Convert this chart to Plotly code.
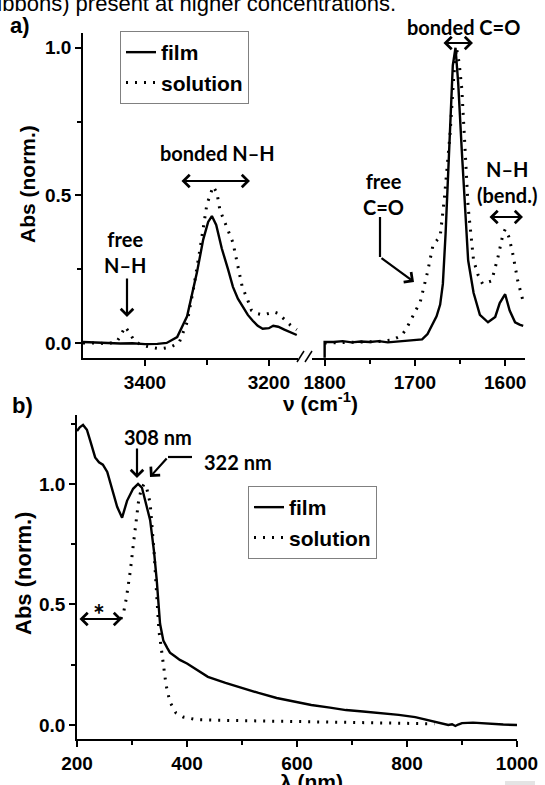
import plotly.graph_objects as go

W, H = 545, 785

# ---------------- data: panel a (IR) ----------------
ir_film_nh_x = [3500, 3480, 3460, 3440, 3420, 3400, 3380, 3365, 3348, 3332, 3316, 3306, 3298, 3292, 3285,
                3276, 3266, 3258, 3250, 3242, 3234, 3226, 3218, 3210, 3200, 3193, 3185, 3175, 3165, 3155]
ir_film_nh_y = [0.003, 0.001, 0.0, -0.002, -0.001, -0.004, -0.003, 0.0, 0.02, 0.09, 0.24, 0.35, 0.41, 0.43, 0.40,
                0.32, 0.25, 0.19, 0.15, 0.12, 0.095, 0.075, 0.058, 0.048, 0.05, 0.058, 0.055, 0.045, 0.035, 0.027]
ir_sol_nh_x = [3500, 3480, 3460, 3445, 3438, 3432, 3425, 3418, 3410, 3400, 3390, 3375, 3360, 3345, 3332, 3322,
               3311, 3300, 3290, 3284, 3279, 3266, 3258, 3250, 3243, 3235, 3228, 3220, 3210, 3200, 3192, 3185,
               3175, 3165, 3155]
ir_sol_nh_y = [0.0, 0.0, -0.003, 0.005, 0.03, 0.055, 0.035, 0.01, -0.002, -0.01, -0.015, -0.02, -0.015, 0.0, 0.07,
               0.18, 0.32, 0.47, 0.53, 0.51, 0.45, 0.38, 0.34, 0.26, 0.19, 0.15, 0.11, 0.10, 0.095, 0.10, 0.105,
               0.10, 0.08, 0.06, 0.045]
ir_film_co_x = [1800, 1800, 1790, 1780, 1770, 1760, 1750, 1740, 1730, 1720, 1710, 1700, 1692, 1686, 1680, 1676,
                1672, 1669, 1666, 1661, 1658, 1655, 1652, 1648, 1644, 1641, 1635, 1628, 1619, 1611, 1606, 1600,
                1595, 1589, 1584, 1580]
ir_film_co_y = [-0.05, 0.003, 0.003, 0.006, 0.002, 0.005, 0.003, 0.006, 0.002, 0.004, 0.006, 0.008, 0.012, 0.03,
                0.065, 0.09, 0.13, 0.2, 0.37, 0.71, 0.94, 1.0, 0.88, 0.65, 0.45, 0.28, 0.17, 0.095, 0.07, 0.088,
                0.135, 0.165, 0.11, 0.07, 0.062, 0.058]
ir_sol_co_x = [1800, 1780, 1760, 1740, 1725, 1715, 1710, 1702, 1694, 1686, 1680, 1675, 1672, 1667, 1661, 1657,
               1654, 1651, 1648, 1645, 1641, 1635, 1630, 1625, 1620, 1615, 1608, 1603, 1600, 1596, 1592, 1586, 1580]
ir_sol_co_y = [0.0, 0.002, 0.003, 0.005, 0.01, 0.025, 0.045, 0.09, 0.14, 0.24, 0.33, 0.35, 0.36, 0.50, 0.71, 0.9,
               1.0, 0.95, 0.86, 0.69, 0.46, 0.28, 0.23, 0.20, 0.205, 0.21, 0.29, 0.36, 0.385, 0.36, 0.31, 0.21, 0.14]

# ---------------- data: panel b (UV-vis) ----------------
uv_film_x = [200, 205, 211, 218, 224, 233, 240, 247, 255, 264, 273, 282, 291, 302, 311, 318, 324, 333, 340, 345,
             351, 357, 364, 369, 378, 387, 400, 411, 438, 470, 500, 530, 563, 595, 626, 660, 689, 720, 752, 785,
             815, 846, 865, 875, 882, 888, 893, 900, 920, 950, 975, 1000]
uv_film_y = [1.22, 1.235, 1.245, 1.225, 1.18, 1.11, 1.09, 1.08, 1.05, 0.98, 0.905, 0.86, 0.93, 0.98, 1.0, 0.985,
             0.93, 0.85, 0.72, 0.60, 0.42, 0.35, 0.32, 0.30, 0.285, 0.27, 0.255, 0.24, 0.20, 0.175, 0.153, 0.133,
             0.112, 0.097, 0.083, 0.072, 0.062, 0.056, 0.05, 0.042, 0.033, 0.017, 0.008, 0.0, 0.003, -0.004, 0.002,
             0.008, 0.01, 0.005, 0.002, 0.0]
uv_sol_x = [280, 285, 290, 293, 297, 302, 307, 312, 317, 322, 327, 333, 340, 345, 347, 349, 352, 355, 358, 362,
            369, 380, 393, 418, 450, 500, 550, 600, 650, 700, 750, 800, 850]
uv_sol_y = [0.44, 0.47, 0.53, 0.57, 0.64, 0.74, 0.85, 0.93, 0.98, 1.0, 0.98, 0.92, 0.72, 0.52, 0.46, 0.39, 0.34,
            0.28, 0.23, 0.165, 0.095, 0.05, 0.033, 0.022, 0.02, 0.018, 0.016, 0.015, 0.013, 0.012, 0.01, 0.008,
            0.005]

series_names = ["film", "solution"]
y_ticks = [0.0, 0.5, 1.0]
ir_ticks_nh = [3400, 3200]
ir_ticks_co = [1800, 1700, 1600]
uv_ticks = [200, 400, 600, 800, 1000]

# ---------------- style ----------------
AX_FONT = "Liberation Sans, Arial, sans-serif"
ANN_FONT = "Lato, Open Sans, sans-serif"
FILM = dict(color="black", width=2.4)
SOL = dict(color="black", width=3, dash="2px,7px")


def px(x):
    return x / W


def py(y):
    return 1 - y / H


fig = go.Figure()
fig.add_trace(go.Scatter(x=ir_film_nh_x, y=ir_film_nh_y, mode="lines", line=FILM, name=series_names[0],
                         xaxis="x", yaxis="y", legend="legend", showlegend=True))
fig.add_trace(go.Scatter(x=ir_sol_nh_x, y=ir_sol_nh_y, mode="lines", line=SOL, name=series_names[1],
                         xaxis="x", yaxis="y", legend="legend", showlegend=True))
fig.add_trace(go.Scatter(x=ir_film_co_x, y=ir_film_co_y, mode="lines", line=FILM, name=series_names[0],
                         xaxis="x2", yaxis="y", showlegend=False))
fig.add_trace(go.Scatter(x=ir_sol_co_x, y=ir_sol_co_y, mode="lines", line=SOL, name=series_names[1],
                         xaxis="x2", yaxis="y", showlegend=False))
fig.add_trace(go.Scatter(x=uv_film_x, y=uv_film_y, mode="lines", line=FILM, name=series_names[0],
                         xaxis="x3", yaxis="y3", legend="legend2", showlegend=True))
fig.add_trace(go.Scatter(x=uv_sol_x, y=uv_sol_y, mode="lines", line=SOL, name=series_names[1],
                         xaxis="x3", yaxis="y3", legend="legend2", showlegend=True))

tickfont = dict(family=AX_FONT, size=19, color="black", weight="bold")
common = dict(showgrid=False, zeroline=False, showline=True, linecolor="black", linewidth=1.5,
              ticks="outside", ticklen=6, tickwidth=1.5, tickcolor="black", tickfont=tickfont,
              automargin=False)

legend_style = dict(xanchor="left", yanchor="top", bgcolor="white", bordercolor="#808080", borderwidth=1,
                    font=dict(family=AX_FONT, size=21, color="black", weight="bold"), tracegroupgap=0,
                    itemwidth=30)

fig.update_layout(
    width=W, height=H, margin=dict(l=0, r=0, t=0, b=0, pad=0), autosize=False,
    paper_bgcolor="white", plot_bgcolor="white",
    xaxis=dict(domain=[px(83), px(298)], range=[3500, 3153], anchor="y", tickvals=ir_ticks_nh,
               minor=dict(tickvals=[3300], ticklen=5, tickwidth=1.5, ticks="outside", tickcolor="black"),
               **common),
    xaxis2=dict(domain=[px(312), px(525)], range=[1814, 1578], anchor="y", tickvals=ir_ticks_co,
                minor=dict(tickvals=[1750, 1650], ticklen=4, tickwidth=1.5, ticks="outside", tickcolor="black"),
                **common),
    yaxis=dict(domain=[py(358), py(33)], range=[-0.051, 1.05], anchor="x", tickvals=y_ticks, tickformat=".1f",
               minor=dict(tickvals=[0.25, 0.75], ticklen=4, tickwidth=1.5, ticks="outside", tickcolor="black"),
               **common),
    xaxis3=dict(domain=[px(77), px(517)], range=[200, 1000], anchor="y3", tickvals=uv_ticks,
                minor=dict(tickvals=[300, 500, 700, 900], ticklen=4, tickwidth=1.5, ticks="outside",
                           tickcolor="black"),
                **common),
    yaxis3=dict(domain=[py(739), py(415)], range=[-0.058, 1.286], anchor="x3", tickvals=y_ticks, tickformat=".1f",
                minor=dict(tickvals=[0.25, 0.75, 1.25], ticklen=4, tickwidth=1.5, ticks="outside",
                           tickcolor="black"),
                **common),
    legend=dict(x=px(120), y=py(31), **legend_style),
    legend2=dict(x=px(248), y=py(486), **legend_style),
)

ann = []


def text(x, y, s, size=20, family=ANN_FONT, angle=0, weight="bold"):
    ann.append(dict(x=px(x), y=py(y), xref="paper", yref="paper", text=s, showarrow=False,
                    xanchor="center", yanchor="middle", textangle=angle,
                    font=dict(family=family, size=size, color="black", weight=weight)))


def arrow(tip, tail, double=False):
    d = dict(x=px(tip[0]), y=py(tip[1]), xref="paper", yref="paper", text="", showarrow=True,
             ax=tail[0] - tip[0], ay=tail[1] - tip[1], arrowhead=4, arrowsize=1.1, arrowwidth=2.2,
             arrowcolor="black", standoff=0, startstandoff=0)
    if double:
        d.update(arrowside="end+start", startarrowhead=4, startarrowsize=1.1)
    ann.append(d)


# top page text (cut off)
ann.append(dict(x=px(398), y=py(3.5), xref="paper", yref="paper", text="ribbons) present at higher concentrations.",
                showarrow=False, xanchor="right", yanchor="middle",
                font=dict(family=AX_FONT, size=22, color="black")))

text(20, 26, "a)", size=22, family=AX_FONT)
text(22, 405, "b)", size=22, family=AX_FONT)
text(28, 184, "Abs (norm.)", size=21, family=AX_FONT, angle=-90)
text(23, 574, "Abs (norm.)", size=22, family=AX_FONT, angle=-90)
text(320, 402, "ν (cm<sup>-1</sup>)", size=21, family=AX_FONT)
text(311, 781, "λ (nm)", size=21, family=AX_FONT)

text(217, 153, "bonded N–H")
arrow((250, 181), (180, 181), double=True)
text(125, 252, "free<br>N–H")
arrow((127, 317), (127, 277))
text(463, 27, "bonded C=O")
arrow((473, 43), (442, 43), double=True)
text(383, 194, "free<br>C=O")
arrow((414, 282), (380, 257))
text(507, 182, "N–H<br>(bend.)")
arrow((523, 217), (488, 217), double=True)

text(158, 437, "308 nm")
arrow((137, 478), (137, 447))
text(238, 462, "322 nm")
arrow((150, 477), (168, 457))
text(99, 614, "*", size=28)
arrow((122, 619), (78, 619), double=True)

fig.update_layout(annotations=ann)

shapes = [
    dict(type="line", xref="paper", yref="paper", x0=px(380), y0=py(217), x1=px(380), y1=py(257),
         line=dict(color="black", width=2.2)),
    dict(type="line", xref="paper", yref="paper", x0=px(192), y0=py(457), x1=px(168), y1=py(457),
         line=dict(color="black", width=2.2)),
    # axis break marks
    dict(type="line", xref="paper", yref="paper", x0=px(297), y0=py(362), x1=px(304), y1=py(351),
         line=dict(color="black", width=1.5)),
    dict(type="line", xref="paper", yref="paper", x0=px(305), y0=py(362), x1=px(312), y1=py(351),
         line=dict(color="black", width=1.5)),
    dict(type="rect", xref="paper", yref="paper", x0=px(505), y0=py(785), x1=px(535), y1=py(781),
         line=dict(width=0), fillcolor="#e4e4e4"),
]
fig.update_layout(shapes=shapes)

fig.write_html("out.html", config={"displayModeBar": False},
               post_script="document.body.style.margin='0';document.body.style.overflow='hidden';")
